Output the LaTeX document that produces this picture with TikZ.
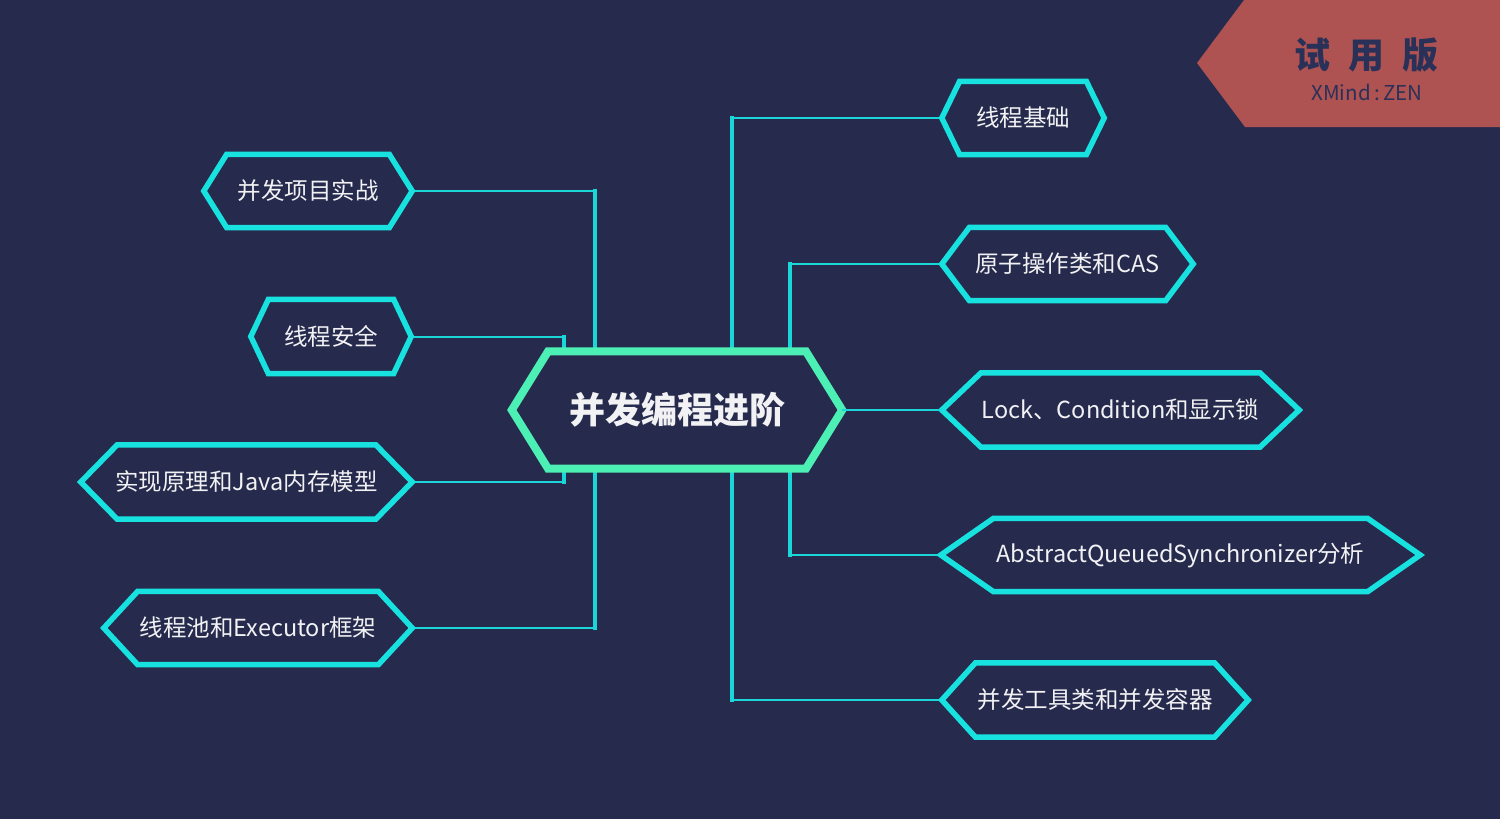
\documentclass[tikz,border=0pt]{standalone}
\usepackage{fontspec}
\setmainfont{Noto Sans CJK SC}
\definecolor{bg}{HTML}{262B4E}
\definecolor{cyanline}{HTML}{18E2E0}
\definecolor{cyanconn}{HTML}{1BD6D8}
\definecolor{mint}{HTML}{4CF0B4}
\definecolor{badge}{HTML}{AF5252}
\definecolor{badgetext}{HTML}{2A3158}
\definecolor{txt}{HTML}{F2F2F4}
\tikzset{
  hexbox/.style={inner sep=0pt, text=txt, font=\fontsize{23.5}{28}\selectfont},
  sub-line/.style={draw=cyanline, line width=5.5pt, line join=miter, fill=bg},
  main-line/.style={draw=mint, line width=8pt, line join=miter, fill=bg},
  sub/.style={},
  main/.style={font=\fontsize{36}{42}\selectfont\bfseries},
  hconn/.style={draw=cyanconn, line width=2.6pt},
  vconn/.style={draw=cyanconn, line width=4.6pt, line cap=rect},
}
\newcommand\hexnode[7]{%
  \node[hexbox,#1,minimum width=#5pt,minimum height=#6pt] (#2) at (#3,#4) {};
  \pgfmathsetmacro\hexsl{0.11*#5}%
  \draw[#1-line] ([xshift=\hexsl pt]#2.north west) -- ([xshift=-\hexsl pt]#2.north east) -- (#2.east) -- ([xshift=-\hexsl pt]#2.south east) -- ([xshift=\hexsl pt]#2.south west) -- (#2.west) -- cycle;
  \node[hexbox,#1] (#2-t) at (#2.center) {#7};
}
\begin{document}
\begin{tikzpicture}[x=1pt,y=-1pt]
\fill[bg] (0,0) rectangle (1500,819);
\useasboundingbox (0,0) rectangle (1500,819);
% badge
\fill[badge] (1244,0) -- (1500,0) -- (1500,127) -- (1245,127) -- (1197,63) -- cycle;
\node[text=badgetext, font=\fontsize{36}{40}\selectfont\bfseries] (badge1) at (1366,55) {试\hspace{18pt}用\hspace{18pt}版};
\node[text=badgetext, font=\fontsize{20.5}{24}\selectfont] (badge2) at (1367,92) {XMind\,:\,ZEN};
% junction coordinates
\coordinate (jL1) at (595,0);
\coordinate (jL2) at (564,0);
\coordinate (jR1) at (732,0);
\coordinate (jR2) at (790,0);
% connector end points
\coordinate (cN) at (677,351.5);
\coordinate (cS) at (677,468.5);
\coordinate (l1) at (412,191);
\coordinate (l2) at (411,337);
\coordinate (l3) at (412,482);
\coordinate (l4) at (412,628);
\coordinate (r1) at (942,118);
\coordinate (r2) at (942,264);
\coordinate (r4) at (941,555);
\coordinate (r5) at (942,700);
\draw[hconn] (l1) -- (l1 -| jL1);
\draw[vconn] (l1 -| jL1) -- (jL1 |- cN);
\draw[hconn] (l2) -- (l2 -| jL2);
\draw[vconn] (l2 -| jL2) -- (jL2 |- cN);
\draw[hconn] (l3) -- (l3 -| jL2);
\draw[vconn] (l3 -| jL2) -- (jL2 |- cS);
\draw[hconn] (l4) -- (l4 -| jL1);
\draw[vconn] (l4 -| jL1) -- (jL1 |- cS);
\draw[hconn] (r1) -- (r1 -| jR1);
\draw[vconn] (r1 -| jR1) -- (jR1 |- cN);
\draw[hconn] (r2) -- (r2 -| jR2);
\draw[vconn] (r2 -| jR2) -- (jR2 |- cN);
\draw[hconn] (r4) -- (r4 -| jR2);
\draw[vconn] (r4 -| jR2) -- (jR2 |- cS);
\draw[hconn] (r5) -- (r5 -| jR1);
\draw[vconn] (r5 -| jR1) -- (jR1 |- cS);
% nodes
\hexnode{main}{c}{677}{410}{330}{117}{并发编程进阶}
\hexnode{sub}{s1}{308}{191}{208}{73}{并发项目实战}
\hexnode{sub}{s2}{331}{336.5}{160}{74}{线程安全}
\hexnode{sub}{s3}{246.5}{482}{331}{74}{实现原理和Java内存模型}
\hexnode{sub}{s4}{258}{628}{308}{73}{线程池和Executor框架}
\hexnode{sub}{t1}{1023}{118}{162}{73}{线程基础}
\hexnode{sub}{t2}{1067.5}{264}{251}{73}{原子操作类和CAS}
\hexnode{sub}{t3}{1120.5}{410}{357}{74}{Lock、Condition和显示锁}
\hexnode{sub}{t4}{1180.5}{555}{479}{73}{AbstractQueuedSynchronizer分析}
\hexnode{sub}{t5}{1095}{700}{306}{74}{并发工具类和并发容器}
\draw[hconn] (c.east) -- (t3.west);
\end{tikzpicture}
\end{document}
